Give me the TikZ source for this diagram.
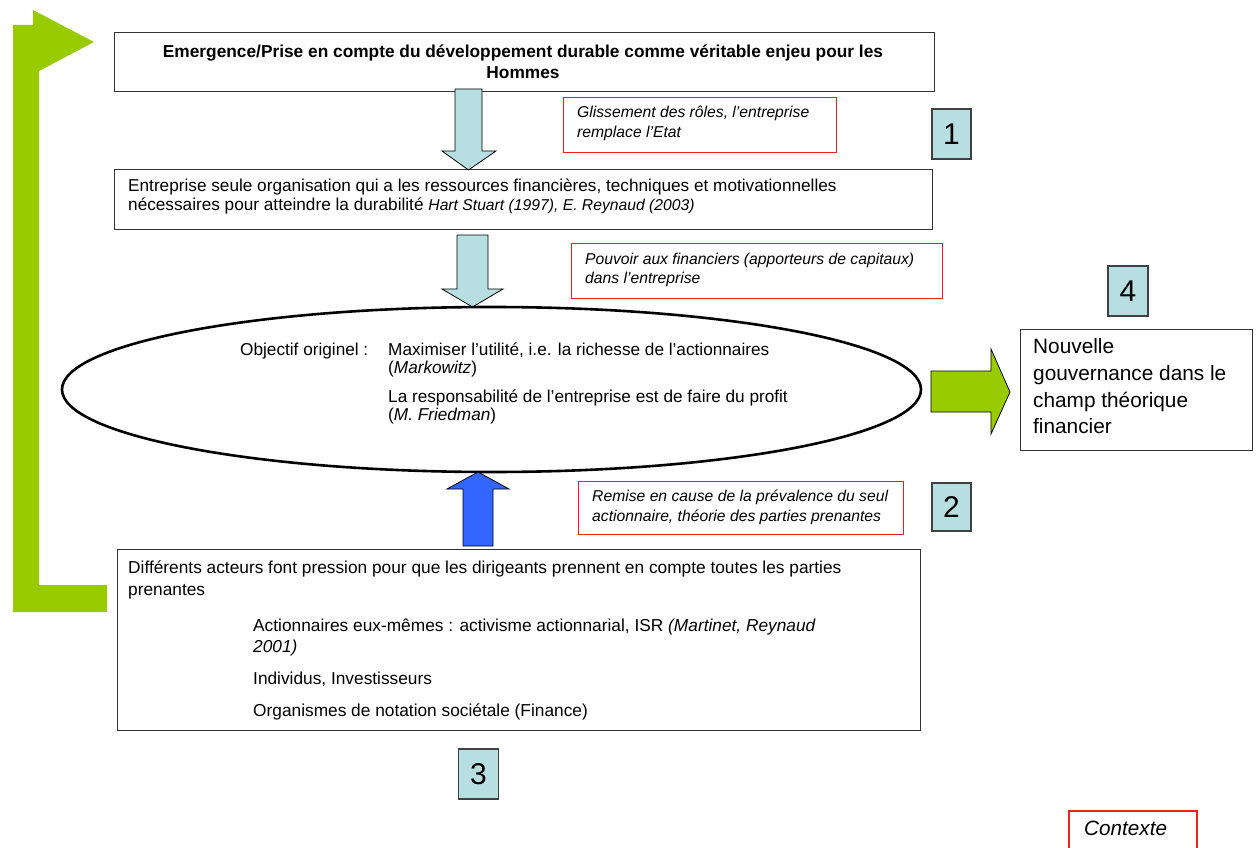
\documentclass[tikz,border=0pt]{standalone}
\usepackage{fontspec}
\usetikzlibrary{shapes.geometric}
\setmainfont{Liberation Sans}
\definecolor{lblue}{RGB}{183,223,226}
\definecolor{lgreen}{RGB}{153,204,0}
\definecolor{bblue}{RGB}{51,102,255}
\definecolor{rred}{RGB}{240,30,30}
\newcommand\fsz[2]{\fontsize{#1}{#2}\selectfont}
\begin{document}
\begin{tikzpicture}[x=1pt,y=-1pt,
  box/.style={draw=black!80, line width=1.3pt, fill=white, inner sep=0, anchor=north west},
  redbox/.style={draw=rred, line width=1.1pt, inner sep=0, anchor=north west},
  numbox/.style={draw=black!75, fill=lblue, line width=1.3pt, inner sep=0, font=\fsz{30}{32}},
  txt/.style={anchor=mid west, inner sep=0, font=\fsz{17.2}{20}},
  itx/.style={anchor=mid west, inner sep=0, font=\itshape\fsz{15.7}{18}},
  etx/.style={anchor=mid west, inner sep=0, font=\fsz{17.2}{20}},
  ntx/.style={anchor=mid west, inner sep=0, font=\fsz{17.3}{20}},
  gtx/.style={anchor=mid west, inner sep=0, font=\fsz{20.8}{24}},
  blockarrow/.style={draw=black, line width=0.8pt, line join=miter},
]
\useasboundingbox (0,0) rectangle (1256,848);
\fill[white] (0,0) rectangle (1256,848);

% green L-shaped arrow
\fill[lgreen] (13,25) -- (33,25) -- (33,10) -- (94,42) -- (39,71) -- (39,585) -- (107,585) -- (107,612) -- (13,612) -- cycle;

% title box
\node[box, minimum width=820, minimum height=59] (title) at (114,32) {};
\node[inner sep=0, align=center, font=\bfseries\fsz{17.3}{21}] (titletxt) at (523,62)
  {Emergence/Prise en compte du développement durable comme véritable enjeu pour les\\Hommes};

% box 2
\node[box, minimum width=818, minimum height=60] (ent) at (114,169) {};
\node[txt] (ent1) at (128,189) {Entreprise seule organisation qui a les ressources financières, techniques et motivationnelles};
\node[txt] (ent2) at (128,208) {nécessaires pour atteindre la durabilité \fsz{15.7}{18}\itshape Hart Stuart (1997), E. Reynaud (2003)};

% arrow 1
\draw[blockarrow, fill=lblue] (455,89) -- (482,89) -- (482,151) -- (496,151) -- (468.5,170) -- (442,151) -- (455,151) -- cycle;
% arrow 2
\draw[blockarrow, fill=lblue] (457,235) -- (488,235) -- (488,289) -- (503,289) -- (472.5,307) -- (442,289) -- (457,289) -- cycle;

% red boxes
\node[redbox, minimum width=273, minimum height=55] (r1) at (563,97) {};
\node[itx] (r1a) at (577,115) {Glissement des rôles, l’entreprise};
\node[itx] (r1b) at (577,135) {remplace l’Etat};

\node[redbox, minimum width=371, minimum height=55] (r2) at (571,243) {};
\node[itx] (r2a) at (585,262) {Pouvoir aux financiers (apporteurs de capitaux)};
\node[itx] (r2b) at (585,281) {dans l’entreprise};

\node[redbox, minimum width=325, minimum height=53] (r3) at (578,481) {};
\node[itx] (r3a) at (592,499) {Remise en cause de la prévalence du seul};
\node[itx] (r3b) at (592,519) {actionnaire, théorie des parties prenantes};

% number boxes
\node[numbox, minimum width=39, minimum height=50] (n1) at (951.5,134) {1};
\node[numbox, minimum width=39, minimum height=48] (n2) at (951.5,507) {2};
\node[numbox, minimum width=40, minimum height=50] (n3) at (478.5,774) {3};
\node[numbox, minimum width=40, minimum height=50] (n4) at (1128,291) {4};

% ellipse
\node[draw=black, line width=2.6pt, ellipse, minimum width=859, minimum height=165, inner sep=0] (ell) at (491.5,389.5) {};
\node[etx] (e0) at (240,353) {Objectif originel :};
\node[etx] (e1) at (388,353) {Maximiser l’utilité, i.e. la richesse de l’actionnaires};
\node[etx] (e2) at (388,371) {(\textit{Markowitz})};
\node[etx] (e3) at (388,400) {La responsabilité de l’entreprise est de faire du profit};
\node[etx] (e4) at (388,418) {(\textit{M. Friedman})};

% green right arrow
\draw[blockarrow, fill=lgreen] (931,371) -- (991,371) -- (991,349) -- (1010,392) -- (991,434) -- (991,412) -- (931,412) -- cycle;

% Nouvelle gouvernance box
\node[box, minimum width=232, minimum height=121] (gov) at (1020,329) {};
\node[gtx] (g1) at (1033,351) {Nouvelle};
\node[gtx] (g2) at (1033,378) {gouvernance dans le};
\node[gtx] (g3) at (1033,405) {champ théorique};
\node[gtx] (g4) at (1033,431) {financier};

% blue up arrow
\draw[blockarrow, fill=bblue] (463,546) -- (493,546) -- (493,489) -- (509,489) -- (478,472) -- (447,489) -- (463,489) -- cycle;

% bottom box
\node[box, minimum width=803, minimum height=181] (act) at (117,549) {};
\node[ntx] (a1) at (128,571) {Différents acteurs font pression pour que les dirigeants prennent en compte toutes les parties};
\node[ntx] (a2) at (128,593) {prenantes};
\node[ntx] (a3) at (253,629) {Actionnaires eux-mêmes : activisme actionnarial, ISR \textit{(Martinet, Reynaud}};
\node[ntx] (a4) at (253,650) {\textit{2001)}};
\node[ntx] (a5) at (253,682) {Individus, Investisseurs};
\node[ntx] (a6) at (253,714) {Organismes de notation sociétale (Finance)};

% Contexte
\coordinate (cb1) at (1069,849);
\coordinate (cb2) at (1197,849);
\draw[rred, line width=1.1pt] (cb1) |- (1133,811) -| (cb2);
\node[anchor=mid west, inner sep=0, font=\itshape\fsz{20.7}{24}] (ctxt) at (1084,833) {Contexte};
\end{tikzpicture}
\end{document}
